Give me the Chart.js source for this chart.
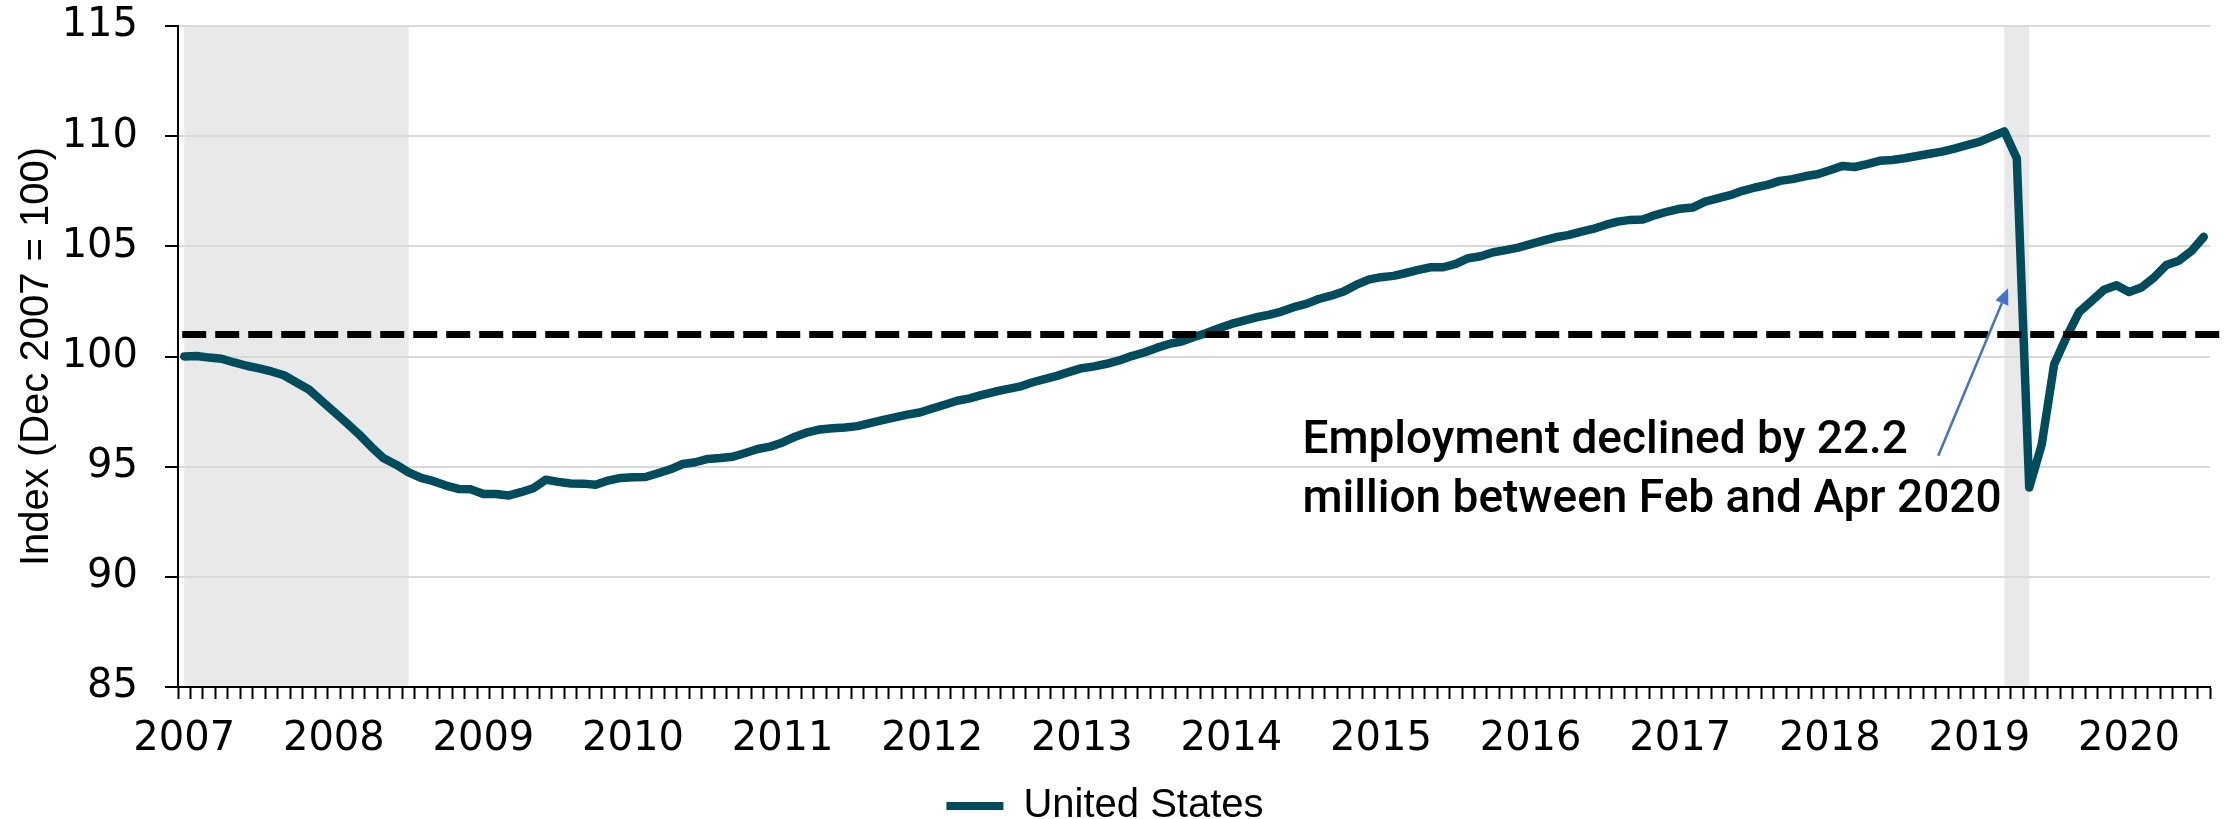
<!DOCTYPE html>
<html>
<head>
<meta charset="utf-8">
<script src="https://cdn.jsdelivr.net/npm/chart.js@4.4.1/dist/chart.umd.min.js"></script>
<style>
  html, body { margin: 0; padding: 0; background: #fff; }
  canvas { display: block; }
</style>
</head>
<body>
<canvas id="employmentChart" width="2239" height="819"></canvas>
<script>
// Monthly employment index, Dec 2007 = 100 (Dec 2007 .. Jun 2021)
const employmentIndex = [
  100.0, 100.02, 99.95, 99.9, 99.73, 99.58, 99.46, 99.32, 99.15, 98.82, 98.5, 98.0,
  97.5, 97.0, 96.48, 95.9, 95.38, 95.09, 94.74, 94.49, 94.34, 94.14, 93.99, 93.97,
  93.76, 93.76, 93.69, 93.84, 94.02, 94.41, 94.31, 94.24, 94.23, 94.18, 94.37, 94.49,
  94.52, 94.53, 94.70, 94.88, 95.12, 95.2, 95.35, 95.39, 95.45, 95.62, 95.8, 95.91,
  96.1, 96.36, 96.56, 96.69, 96.74, 96.78, 96.84, 96.98, 97.11, 97.24, 97.36, 97.46,
  97.64, 97.81, 97.99, 98.1, 98.26, 98.4, 98.52, 98.63, 98.82, 98.97, 99.12, 99.3,
  99.47, 99.55, 99.67, 99.82, 100.02, 100.18, 100.39, 100.57, 100.68, 100.88, 101.07, 101.28,
  101.48, 101.63, 101.78, 101.89, 102.04, 102.24, 102.39, 102.61, 102.76, 102.95, 103.25, 103.49,
  103.6, 103.66, 103.79, 103.93, 104.05, 104.05, 104.2, 104.46, 104.55, 104.73, 104.83, 104.94,
  105.1, 105.26, 105.41, 105.51, 105.66, 105.79, 105.97, 106.12, 106.2, 106.22, 106.42, 106.58,
  106.71, 106.76, 107.03, 107.18, 107.32, 107.52, 107.67, 107.79, 107.97, 108.05, 108.18, 108.27,
  108.45, 108.65, 108.6, 108.73, 108.88, 108.92, 109.0, 109.1, 109.2, 109.3, 109.44, 109.59,
  109.74, 109.98, 110.22, 109.0, 94.05, 96.0, 99.65, 100.9, 102.02, 102.52, 103.03, 103.23,
  102.93, 103.13, 103.58, 104.15, 104.35, 104.78, 105.43
];

const tickYears = ['2007', '2008', '2009', '2010', '2011', '2012', '2013',
                   '2014', '2015', '2016', '2017', '2018', '2019', '2020'];

const recessionStarts = ['Dec 2007', 'Feb 2020'];
const recessionEnds = ['Jun 2009', 'Apr 2020'];

const prePandemicLevel = 101;

const noteLines = ['Employment declined by 22.2', 'million between Feb and Apr 2020'];

const monthNames = ['Jan', 'Feb', 'Mar', 'Apr', 'May', 'Jun',
                    'Jul', 'Aug', 'Sep', 'Oct', 'Nov', 'Dec'];
const monthLabels = employmentIndex.map((v, i) => {
  const m = 11 + i;
  return monthNames[m % 12] + ' ' + (2007 + Math.floor(m / 12));
});

const TEAL = '#004B5C';
const TICK_FONT = { family: 'DejaVu Sans', size: 40 };
const TEXT_FONT = { family: 'Liberation Sans', size: 40 };

// grey recession bands, drawn under the grid
const recessionBands = {
  id: 'recessionBands',
  beforeDraw(chart) {
    const { ctx, chartArea, scales } = chart;
    ctx.save();
    ctx.fillStyle = '#fff';
    ctx.fillRect(0, 0, chart.width, chart.height);
    ctx.fillStyle = '#e9e9e9';
    recessionStarts.forEach((start, i) => {
      const x1 = scales.x.getPixelForValue(monthLabels.indexOf(start));
      const x2 = scales.x.getPixelForValue(monthLabels.indexOf(recessionEnds[i]));
      ctx.fillRect(x1, chartArea.top, x2 - x1, chartArea.bottom - chartArea.top);
    });
    ctx.restore();
  }
};

// dashed pre-pandemic level
const levelLine = {
  id: 'levelLine',
  afterDatasetsDraw(chart) {
    const { ctx, chartArea, scales } = chart;
    const y = scales.y.getPixelForValue(prePandemicLevel);
    ctx.save();
    ctx.strokeStyle = '#000';
    ctx.lineWidth = 7;
    ctx.setLineDash([24, 9]);
    ctx.beginPath();
    ctx.moveTo(scales.x.getPixelForValue(0) - 2, y);
    ctx.lineTo(chartArea.right + 11, y);
    ctx.stroke();
    ctx.restore();
  }
};

// text note with arrow pointing at the drop
const dropNote = {
  id: 'dropNote',
  afterDraw(chart) {
    const { ctx, scales } = chart;
    const x = scales.x, y = scales.y;
    ctx.save();
    ctx.fillStyle = '#000';
    ctx.font = '500 46px Roboto';
    ctx.textBaseline = 'alphabetic';
    ctx.textAlign = 'left';
    ctx.fillText(noteLines[0], x.getPixelForValue(89.7), y.getPixelForValue(95.6));
    ctx.fillText(noteLines[1], x.getPixelForValue(89.7), y.getPixelForValue(92.95));

    const x1 = x.getPixelForValue(140.7), y1 = y.getPixelForValue(95.5);
    const x2 = x.getPixelForValue(146.3), y2 = y.getPixelForValue(103.1);
    const ang = Math.atan2(y2 - y1, x2 - x1);
    const head = 16, half = 7;
    ctx.strokeStyle = '#4472C4';
    ctx.fillStyle = '#4472C4';
    ctx.lineWidth = 2.5;
    ctx.beginPath();
    ctx.moveTo(x1, y1);
    ctx.lineTo(x2 - head * Math.cos(ang), y2 - head * Math.sin(ang));
    ctx.stroke();
    ctx.beginPath();
    ctx.moveTo(x2, y2);
    ctx.lineTo(x2 - head * Math.cos(ang) + half * Math.sin(ang), y2 - head * Math.sin(ang) - half * Math.cos(ang));
    ctx.lineTo(x2 - head * Math.cos(ang) - half * Math.sin(ang), y2 - head * Math.sin(ang) + half * Math.cos(ang));
    ctx.closePath();
    ctx.fill();
    ctx.restore();
  }
};

const ctx = document.getElementById('employmentChart').getContext('2d');

new Chart(ctx, {
  type: 'line',
  data: {
    labels: monthLabels,
    datasets: [{
      label: 'United States',
      data: employmentIndex,
      borderColor: TEAL,
      backgroundColor: TEAL,
      borderWidth: 8.5,
      borderCapStyle: 'round',
      borderJoinStyle: 'round',
      pointRadius: 0,
      tension: 0
    }]
  },
  options: {
    responsive: false,
    animation: false,
    devicePixelRatio: 1,
    layout: { padding: { left: 0, right: 29, top: 26, bottom: -17 } },
    plugins: {
      tooltip: { enabled: false },
      legend: {
        position: 'bottom',
        labels: {
          boxWidth: 57,
          boxHeight: 8,
          padding: 0,
          color: '#000',
          font: TEXT_FONT,
          generateLabels: () => [{
            text: 'United States',
            fillStyle: TEAL,
            strokeStyle: TEAL,
            lineWidth: 0,
            hidden: false,
            datasetIndex: 0
          }]
        }
      }
    },
    scales: {
      x: {
        type: 'category',
        offset: true,
        afterFit: (scale) => { scale.height = 99; },
        border: { color: '#000', width: 2 },
        grid: {
          offset: true,
          drawOnChartArea: false,
          drawTicks: true,
          tickLength: 12,
          tickColor: '#000',
          tickWidth: 2
        },
        ticks: {
          autoSkip: false,
          maxRotation: 0,
          padding: 17,
          color: '#000',
          font: TICK_FONT,
          callback: (value, index) => (index % 12 === 0 ? tickYears[index / 12] : '')
        }
      },
      y: {
        min: 85,
        max: 115,
        afterFit: (scale) => {
          scale.width = 178;
          scale.paddingTop = 0;
          scale.paddingBottom = 0;
        },
        border: { color: '#000', width: 2 },
        grid: {
          color: '#d9d9d9',
          lineWidth: 2,
          tickLength: 13,
          tickColor: '#000',
          tickWidth: 2
        },
        ticks: {
          stepSize: 5,
          padding: 27,
          color: '#000',
          font: TICK_FONT
        },
        title: {
          display: true,
          text: 'Index (Dec 2007 = 100)',
          color: '#000',
          font: TEXT_FONT,
          padding: { top: 13, bottom: 0 }
        }
      }
    }
  },
  plugins: [recessionBands, levelLine, dropNote]
});
</script>
</body>
</html>
